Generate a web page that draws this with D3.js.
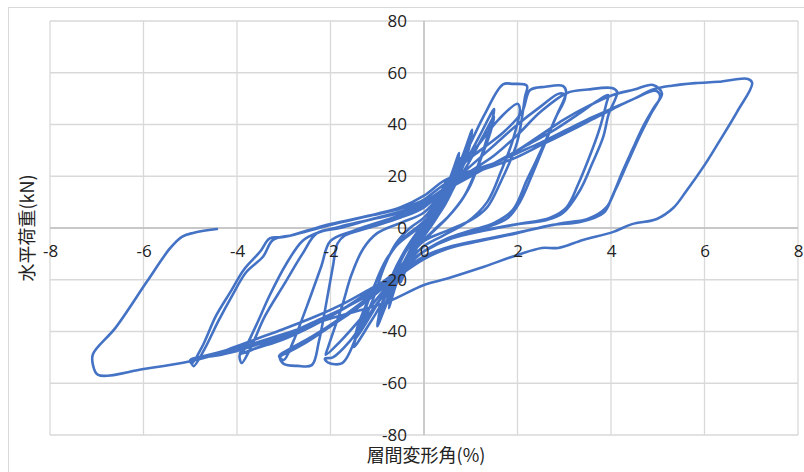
<!DOCTYPE html>
<html>
<head>
<meta charset="utf-8">
<script src="https://cdn.jsdelivr.net/npm/d3@7"></script>
<style>
  body { margin: 0; background: #fff; }
  svg { display: block; }
  .tick text { font-family: "Open Sans", "Noto Sans", sans-serif; font-size: 17px; fill: #222; }
  .title { font-family: "Noto Sans CJK JP", "Noto Sans", sans-serif; fill: #222; }
</style>
</head>
<body>
<svg width="804" height="472"></svg>
<script>
// x: story drift angle (%), y: horizontal load (kN), one array per loading cycle
var cycle025 = [[0,0],[0.1,5],[0.25,11],[0.22,8],[0.05,1],[-0.1,-5],[-0.25,-12],[-0.22,-9],[-0.05,-2]];
var cycle05a = [[0.1,3],[0.3,11],[0.5,19],[0.45,15],[0.25,6],[0,-2],[-0.25,-10],[-0.5,-21],[-0.45,-17],[-0.25,-8]];
var cycle05b = [[0,1],[0.25,9],[0.5,18],[0.44,13],[0.2,4],[-0.05,-4],[-0.3,-12],[-0.5,-20],[-0.43,-14],[-0.2,-5]];
var cycle075a = [[0.05,3],[0.3,10],[0.55,19],[0.75,29],[0.68,23],[0.45,12],[0.15,3],[-0.1,-5],[-0.4,-14],[-0.6,-22],[-0.75,-31],[-0.66,-24],[-0.45,-14],[-0.2,-6]];
var cycle075b = [[0.1,1],[0.35,8],[0.6,18],[0.77,27],[0.7,21],[0.5,11],[0.2,2],[-0.15,-7],[-0.45,-16],[-0.77,-29],[-0.7,-23],[-0.5,-13],[-0.25,-5]];
var cycle10a = [[0.1,2],[0.4,10],[0.65,20],[0.85,29],[1.03,38],[0.95,31],[0.7,18],[0.4,8],[0.1,0],[-0.2,-8],[-0.5,-17],[-0.75,-27],[-1.0,-38],[-0.9,-30],[-0.65,-18],[-0.35,-8]];
var cycle10b = [[0,0],[0.35,8],[0.6,16],[0.85,26],[1.0,34],[0.92,28],[0.72,19],[0.45,9],[0.15,1],[-0.2,-7],[-0.55,-18],[-0.8,-28],[-0.98,-35],[-0.88,-28],[-0.7,-19],[-0.45,-10],[-0.2,-3]];
var cycle15a = [[0,2],[0.35,9],[0.6,17],[0.9,26],[1.2,36],[1.5,46],[1.4,38],[1.15,24],[0.85,12],[0.5,4],[0.1,-3],[-0.3,-10],[-0.6,-19],[-0.9,-29],[-1.2,-38],[-1.5,-46],[-1.38,-38],[-1.1,-24],[-0.8,-12],[-0.45,-4]];
var cycle15b = [[-0.1,1],[0.3,8],[0.6,15],[0.95,25],[1.25,35],[1.5,43],[1.42,37],[1.2,26],[0.95,15],[0.6,6],[0.2,-1],[-0.25,-9],[-0.65,-19],[-0.95,-28],[-1.25,-37],[-1.48,-43],[-1.4,-37],[-1.15,-26],[-0.9,-16],[-0.6,-7]];
var cycle20a = [[0,2],[0.4,12],[0.7,22],[1.0,33],[1.3,44],[1.69,55.5],[1.9,55.7],[2.2,55],[2.16,50.6],[1.99,33],[1.63,17.4],[1.35,8],[1.0,3],[0.5,-1],[0,-5],[-0.4,-13],[-0.8,-24],[-1.2,-34],[-1.6,-44],[-1.95,-50],[-2.12,-50.5],[-2.05,-52],[-1.75,-52.2],[-1.4,-40],[-1.1,-28],[-0.85,-15],[-0.6,-6]];
var cycle20b = [[-0.3,0],[0,4],[0.4,13],[0.8,24],[1.2,33],[1.6,42],[2.0,48],[2.05,46],[1.9,34],[1.65,22],[1.35,10],[0.9,2],[0.4,-3],[0,-7],[-0.4,-14],[-0.9,-25],[-1.4,-36],[-1.8,-44],[-2.1,-49],[-2.05,-46],[-1.75,-30],[-1.55,-18],[-1.3,-8],[-1.0,-2]];
var cycle30a = [[-0.5,2],[0,6],[0.4,14],[0.8,24],[1.2,30],[1.7,37],[2.1,45],[2.27,53.3],[2.6,54.6],[2.97,54.9],[3.04,52.6],[2.85,44],[2.63,35],[2.4,26],[2.2,18.5],[1.9,7],[1.5,2],[1.0,-1],[0.5,-4],[0,-9],[-0.5,-17],[-1.0,-25],[-1.5,-32],[-2.0,-38],[-2.5,-44],[-2.9,-48],[-3.08,-50],[-3.0,-52.5],[-2.7,-53.3],[-2.4,-53],[-2.25,-44],[-2.1,-30],[-1.95,-15],[-1.85,-6],[-1.7,-3]];
var cycle30b = [[-1.2,0],[-0.5,4],[0,8],[0.5,16],[1.0,24],[1.5,32],[2.0,40],[2.5,47],[2.9,52],[3.02,51],[2.8,42],[2.55,31],[2.3,20],[2.05,10],[1.8,4],[1.3,0],[0.7,-3],[0,-9],[-0.6,-18],[-1.2,-27],[-1.8,-35],[-2.4,-42],[-2.9,-47],[-3.1,-49.5],[-3.0,-51],[-2.8,-44],[-2.5,-30],[-2.2,-15],[-2.0,-5]];
var cycle40a = [[-1.5,-1],[-1.0,2],[-0.5,5],[0,9],[0.5,16],[1.0,22],[1.5,28],[2.0,36],[2.5,45],[3.06,52.2],[3.5,53.5],[4.02,54.1],[4.13,52.6],[3.95,44],[3.83,35],[3.6,25],[3.34,14.7],[2.97,5.8],[2.63,3.1],[1.9,1.2],[1.0,-2],[0.4,-5],[0,-9],[-0.5,-16],[-1.0,-23],[-1.6,-30],[-2.2,-36],[-2.8,-41],[-3.4,-45],[-3.8,-48],[-3.94,-49],[-3.9,-52.2],[-3.7,-46],[-3.4,-34],[-3.0,-22],[-2.6,-10],[-2.29,-2]];
var cycle40b = [[-1.8,0],[-1.2,3],[-0.5,6],[0,10],[0.5,15],[1.0,20],[1.6,26],[2.2,32],[2.8,38],[3.3,44],[3.7,49],[3.94,51.4],[3.9,48],[3.75,38],[3.55,28],[3.3,17],[3.05,8],[2.7,4],[2.0,1.5],[1.3,-1],[0.6,-4],[0,-9],[-0.6,-17],[-1.2,-25],[-1.8,-32],[-2.4,-38],[-3.0,-43],[-3.5,-46],[-3.94,-48.4],[-3.85,-47],[-3.6,-38],[-3.3,-26],[-2.95,-14],[-2.6,-5],[-2.3,-2]];
var cycle50a = [[-1.8,0.5],[-1.0,4],[-0.4,7],[0,10],[0.5,16],[1.0,21],[1.5,25],[2.0,30],[2.5,36],[3.0,42],[3.5,47],[4.04,51.4],[4.5,53.5],[4.9,55.3],[5.09,52],[4.9,46],[4.68,39],[4.45,30],[4.26,22.4],[4.02,12],[3.85,6],[3.34,2.3],[2.76,1.2],[1.99,-2],[1.2,-5],[0.5,-8],[0,-12],[-0.5,-18],[-1.0,-24],[-1.6,-30],[-2.2,-35],[-2.8,-40],[-3.4,-44],[-4.0,-47.5],[-4.5,-49.5],[-4.97,-50.8],[-4.93,-53.4],[-4.7,-47],[-4.4,-36],[-4.1,-26],[-3.8,-17],[-3.44,-11],[-3.23,-4.6]];
var cycle50b = [[-2.8,-2.7],[-2.0,1.2],[-1.09,5],[-0.4,8],[0,11],[0.45,17],[1.0,21],[1.5,24],[2.0,27.5],[2.5,32],[3.06,37],[3.5,41],[4.04,46],[4.5,50],[4.95,53],[5.05,51],[4.85,44],[4.6,35],[4.35,25],[4.1,15],[3.9,8],[3.5,3.5],[3.0,2],[2.2,-1],[1.4,-4],[0.6,-7],[0,-11],[-0.5,-17],[-1.1,-23],[-1.7,-29],[-2.3,-34],[-3.0,-39],[-3.6,-43],[-4.2,-47],[-4.7,-49.5],[-5.0,-51],[-4.97,-52.4],[-4.75,-46],[-4.45,-34],[-4.15,-25],[-3.85,-16],[-3.5,-9],[-3.3,-4],[-3.0,-3.5]];
var cycle70 = [[-2.5,-1],[-2.0,1.5],[-1.0,5.5],[-0.5,8],[0,12.5],[0.45,18.5],[1.0,22],[1.5,25],[2.0,29],[2.5,33],[3.0,37.5],[3.5,42],[4.0,46],[4.5,50],[4.9,53.5],[5.3,55],[5.8,56],[6.3,56.5],[6.93,57.6],[7.02,56],[6.7,45],[6.3,33],[6.0,24.3],[5.6,14],[5.33,7.7],[4.98,3.5],[4.45,1.5],[4.05,-1.5],[3.4,-4.6],[2.87,-7.7],[2.52,-7.7],[2.0,-10.4],[1.2,-15.5],[0.5,-19.5],[0,-22],[-0.79,-28.6],[-1.5,-32.5],[-2.0,-35],[-3.0,-41],[-4.0,-46.5],[-5.0,-51.5],[-6.0,-54.5],[-6.97,-56.8],[-7.08,-53],[-7.08,-48.7],[-6.6,-38.6],[-5.93,-20.8],[-5.43,-7.8],[-5.18,-3.4],[-4.94,-1.9],[-4.43,-0.4]];

var xTicks = [-8, -6, -4, -2, 0, 2, 4, 6, 8];
var yTicks = [-80, -60, -40, -20, 0, 20, 40, 60, 80];
var xTitle = "層間変形角(%)";
var yTitle = "水平荷重(kN)";

var path = [].concat(cycle025, cycle05a, cycle05b, cycle075a, cycle075b, cycle10a, cycle10b,
                     cycle15a, cycle15b, cycle20a, cycle20b, cycle30a, cycle30b,
                     cycle40a, cycle40b, cycle50a, cycle50b, cycle70);

var svg = d3.select("svg");

// chart area frame
svg.append("rect")
   .attr("x", 8.5).attr("y", 7.5)
   .attr("width", 820).attr("height", 480)
   .attr("fill", "#fff")
   .attr("stroke", "#d9d9d9");

var x = d3.scaleLinear().domain([-8, 8]).range([50, 798]);
var y = d3.scaleLinear().domain([-80, 80]).range([435, 21]);

// gridlines
svg.append("g")
   .selectAll("line")
   .data(xTicks)
   .enter().append("line")
   .attr("x1", function(d) { return x(d); })
   .attr("x2", function(d) { return x(d); })
   .attr("y1", y(80)).attr("y2", y(-80))
   .attr("stroke", "#d9d9d9").attr("stroke-width", 1.3);

svg.append("g")
   .selectAll("line")
   .data(yTicks)
   .enter().append("line")
   .attr("x1", x(-8)).attr("x2", x(8))
   .attr("y1", function(d) { return y(d); })
   .attr("y2", function(d) { return y(d); })
   .attr("stroke", "#d9d9d9").attr("stroke-width", 1.3);

// axis lines through the origin
svg.append("line")
   .attr("x1", x(-8)).attr("x2", x(8)).attr("y1", y(0)).attr("y2", y(0))
   .attr("stroke", "#bfbfbf").attr("stroke-width", 1.3);
svg.append("line")
   .attr("x1", x(0)).attr("x2", x(0)).attr("y1", y(80)).attr("y2", y(-80))
   .attr("stroke", "#bfbfbf").attr("stroke-width", 1.3);

// series
var line = d3.line()
             .x(function(d) { return x(d[0]); })
             .y(function(d) { return y(d[1]); })
             .curve(d3.curveCatmullRom.alpha(0.5));

svg.append("path")
   .datum(path)
   .attr("d", line)
   .attr("fill", "none")
   .attr("stroke", "#4472c4")
   .attr("stroke-width", 2.6)
   .attr("stroke-linejoin", "round")
   .attr("stroke-linecap", "round");

// tick labels (drawn above the series), plain hyphen for negatives
var fmt = function(d) { return String(d); };

var xAxis = svg.append("g")
               .attr("transform", "translate(0," + y(0) + ")")
               .call(d3.axisBottom(x).tickValues(xTicks).tickSize(0).tickPadding(17).tickFormat(fmt));
xAxis.select(".domain").remove();

var yAxis = svg.append("g")
               .attr("transform", "translate(" + x(0) + ",0)")
               .call(d3.axisLeft(y).tickValues(yTicks).tickSize(0).tickPadding(17).tickFormat(fmt));
yAxis.select(".domain").remove();

svg.selectAll(".tick text").attr("font-family", null).attr("font-size", null);

// titles
svg.append("text")
   .attr("class", "title")
   .attr("x", 426).attr("y", 462)
   .attr("text-anchor", "middle")
   .attr("font-size", 18)
   .text(xTitle);

svg.append("text")
   .attr("class", "title")
   .attr("transform", "translate(34,228) rotate(-90)")
   .attr("text-anchor", "middle")
   .attr("font-size", 18)
   .text(yTitle);
</script>
</body>
</html>
